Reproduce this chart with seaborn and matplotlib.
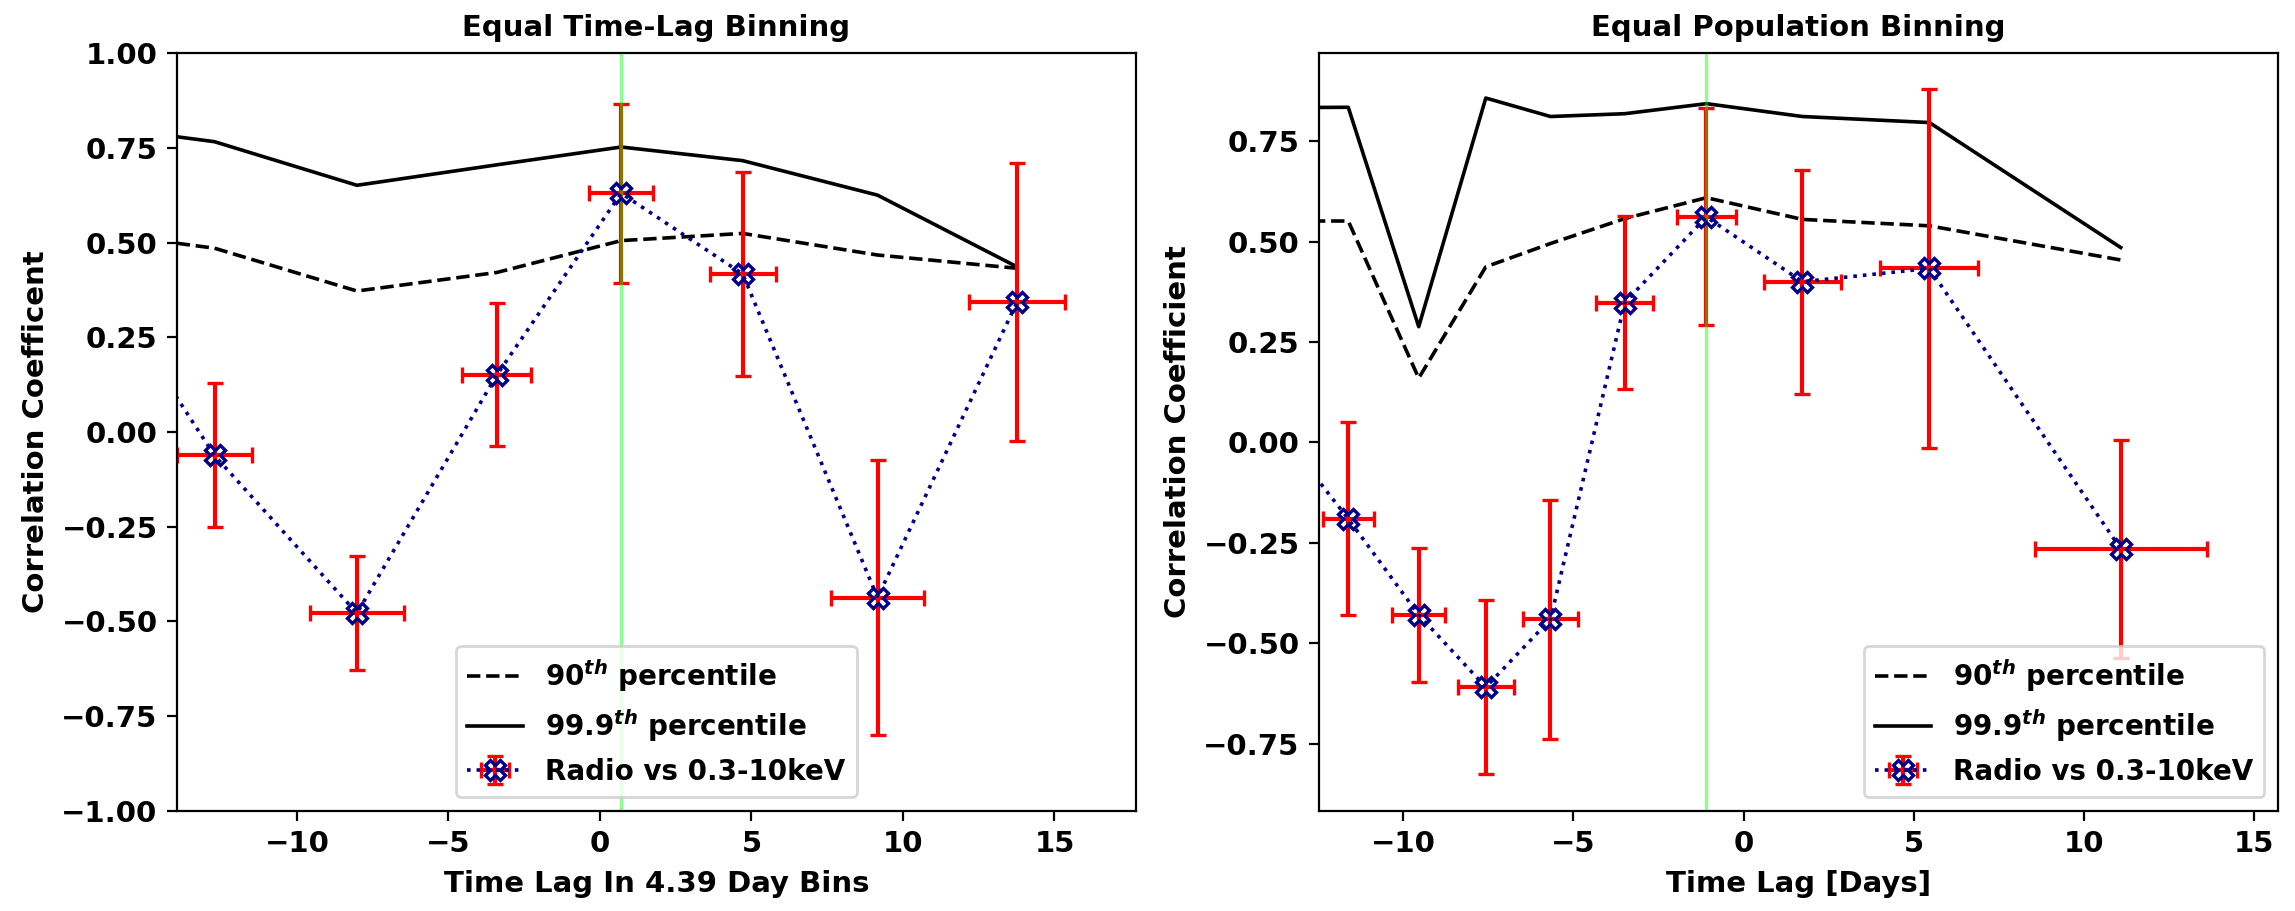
import numpy as np
import matplotlib
matplotlib.use("Agg")
import matplotlib.pyplot as plt
import seaborn as sns

# ---------------- data: Equal Time-Lag Binning (left) ----------------
lag_time_bins = [-17.1, -12.72, -8.02, -3.40, 0.70, 4.71, 9.16, 13.76]
lag_time_bins_err = [1.20, 1.24, 1.54, 1.14, 1.05, 1.09, 1.53, 1.58]
corr_time_bins = [0.476, -0.062, -0.478, 0.151, 0.630, 0.417, -0.437, 0.342]
corr_time_bins_err = [0.20, 0.19, 0.151, 0.189, 0.236, 0.269, 0.362, 0.367]
p90_time_bins = [0.531, 0.485, 0.372, 0.421, 0.505, 0.524, 0.467, 0.432]
p999_time_bins = [0.812, 0.766, 0.651, 0.705, 0.752, 0.716, 0.625, 0.436]

# ---------------- data: Equal Population Binning (right) ----------------
lag_pop_bins = [-13.8, -11.61, -9.54, -7.57, -5.67, -3.49, -1.09, 1.73, 5.46, 11.08]
lag_pop_bins_err = [0.75, 0.75, 0.78, 0.82, 0.80, 0.83, 0.87, 1.12, 1.44, 2.52]
corr_pop_bins = [0.047, -0.19, -0.429, -0.609, -0.44, 0.348, 0.561, 0.40, 0.433, -0.265]
corr_pop_bins_err = [0.24, 0.24, 0.167, 0.216, 0.297, 0.216, 0.27, 0.279, 0.447, 0.272]
p90_pop_bins = [0.551, 0.551, 0.160, 0.437, 0.495, 0.557, 0.609, 0.555, 0.539, 0.454]
p999_pop_bins = [0.833, 0.834, 0.288, 0.857, 0.811, 0.818, 0.843, 0.811, 0.796, 0.485]

titles = ["Equal Time-Lag Binning", "Equal Population Binning"]
xlabels = ["Time Lag In 4.39 Day Bins", "Time Lag [Days]"]
ylabels = ["Correlation Coefficent", "Correlation Coefficient"]
legend_labels = [r"90$^{th}$ percentile", r"99.9$^{th}$ percentile", "Radio vs 0.3-10keV"]

plt.rcParams.update({
    "font.family": ["DejaVu Sans"],
    "font.weight": "bold",
    "axes.labelweight": "bold",
    "axes.titleweight": "bold",
    "font.size": 10.5,
    "axes.titlesize": 10.5,
    "axes.labelsize": 10.5,
    "xtick.labelsize": 10.5,
    "ytick.labelsize": 10.5,
    "legend.fontsize": 10,
})

fig, axes = plt.subplots(1, 2, figsize=(11.475, 4.555), dpi=200)
fig.subplots_adjust(left=0.0771, right=0.9926, bottom=0.1098, top=0.9418, wspace=0.1908)


def draw(ax, x, xerr, y, yerr, p90, p999, title, xlabel, ylabel, xlim, ylim, loc):
    sns.lineplot(x=x, y=p90, ax=ax, color="black", linestyle="--", lw=1.3,
                 label=legend_labels[0], sort=False, estimator=None, errorbar=None)
    sns.lineplot(x=x, y=p999, ax=ax, color="black", linestyle="-", lw=1.3,
                 label=legend_labels[1], sort=False, estimator=None, errorbar=None)
    ax.errorbar(x, y, xerr=xerr, yerr=yerr, fmt="X:", color="darkblue",
                mfc="none", mec="darkblue", ms=7.5, mew=1.2, lw=1.3,
                ecolor="red", elinewidth=1.5, capsize=3, capthick=1.4,
                label=legend_labels[2])
    peak = x[int(np.argmax(y))]
    ax.axvline(peak, color="lime", alpha=0.45, lw=1.2)
    ax.set_xlim(*xlim)
    ax.set_ylim(*ylim)
    ax.set_title(title)
    ax.set_xlabel(xlabel)
    ax.set_ylabel(ylabel)
    ax.legend(loc=loc)


draw(axes[0], lag_time_bins, lag_time_bins_err, corr_time_bins, corr_time_bins_err,
     p90_time_bins, p999_time_bins, titles[0], xlabels[0], ylabels[0],
     (-13.96, 17.69), (-1.0, 1.0), "lower center")
draw(axes[1], lag_pop_bins, lag_pop_bins_err, corr_pop_bins, corr_pop_bins_err,
     p90_pop_bins, p999_pop_bins, titles[1], xlabels[1], ylabels[1],
     (-12.47, 15.7), (-0.917, 0.969), "lower right")

fig.savefig("out.png", dpi=200)
